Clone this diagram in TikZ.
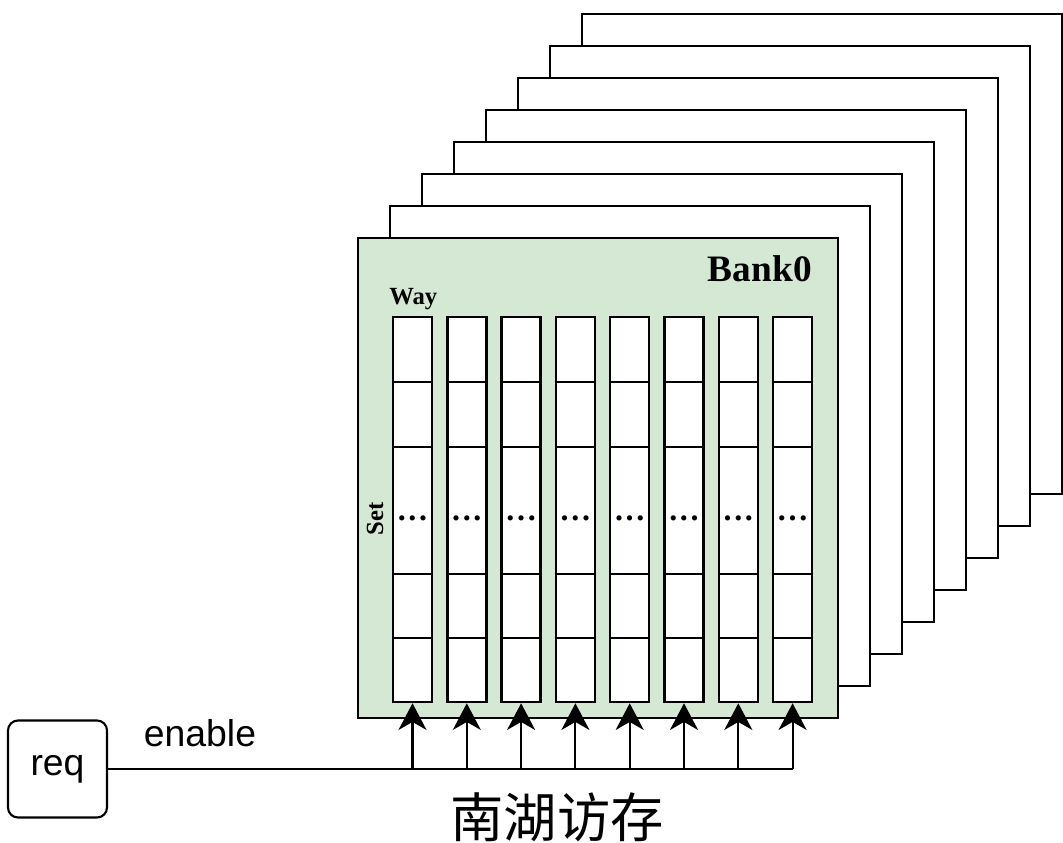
\documentclass[tikz,border=0pt]{standalone}
\usepackage{fontspec}
\setmainfont{Liberation Serif}
\setsansfont{Liberation Sans}
\newfontfamily\cjk{Noto Sans CJK SC}
\usetikzlibrary{arrows.meta}
\definecolor{bankgreen}{HTML}{D5E8D4}
\begin{document}
\begin{tikzpicture}[x=0.75pt,y=-0.75pt,
  backbank/.style={draw=black, line width=1.9pt, fill=white},
  frontbank/.style={draw=black, line width=1.9pt, fill=bankgreen},
  colbox/.style={draw=black, line width=1.9pt, fill=white, inner sep=0pt,
     minimum width=29.25pt, minimum height=288.75pt},
  rowline/.style={line width=1.7pt},
  wire/.style={draw=black, line width=1.6pt},
  uparrow/.style={wire, -{Stealth[length=20pt, width=21pt, inset=6pt]}},
  reqbox/.style={draw=black, line width=1.6pt, rounded corners=7.5pt, fill=white,
     minimum width=74.25pt, minimum height=72.75pt, inner sep=0pt,
     font=\sffamily\fontsize{28}{32}\selectfont},
  sftext/.style={font=\sffamily\fontsize{28}{32}\selectfont, inner sep=0pt},
  serifbold/.style={font=\bfseries\fontsize{18.5}{20}\selectfont, inner sep=0pt},
  bigbold/.style={font=\bfseries\fontsize{28}{32}\selectfont, inner sep=0pt},
  dots/.style={font=\bfseries\fontsize{24}{26}\selectfont, inner sep=0pt},
  cjktext/.style={font=\cjk\fontsize{40}{44}\selectfont, inner sep=0pt}]
\useasboundingbox (0,0) rectangle (1063,842);
% stacked banks (back to front)
\foreach \i in {7,6,...,1}{
  \draw[backbank] ({358+32*\i},{238-32*\i}) rectangle ({838+32*\i},{718-32*\i});
}
\draw[frontbank] (358,238) rectangle (838,718);
\node[bigbold, anchor=base east] (bank) at (812,281) {Bank0};
\node[serifbold, anchor=base west] (way) at (389,304) {Way};
\node[serifbold, rotate=90] (set) at (375,519) {Set};
% columns (ways)
\foreach \j in {0,...,7}{
  \node[colbox] (c\j) at ({412.5+54.3*\j},509.5) {};
  \foreach \yy in {382,447,574,638}{
    \draw[rowline] (c\j.west |- 0,\yy) -- (c\j.east |- 0,\yy);
  }
  \node[dots] (d\j) at ({412.5+54.3*\j},518) {.\kern2pt.\kern2pt.};
  \coordinate (b\j) at ({412.5+54.3*\j},769);
  \draw[uparrow] (b\j) -- (c\j.south);
}
% request
\node[reqbox] (req) at (57.5,769) {req};
\draw[wire] (req.east) -- (b7);
\node[sftext] (en) at (200,733) {enable};
\node[cjktext] (cn) at (557,817) {南湖访存};
\end{tikzpicture}
\end{document}
